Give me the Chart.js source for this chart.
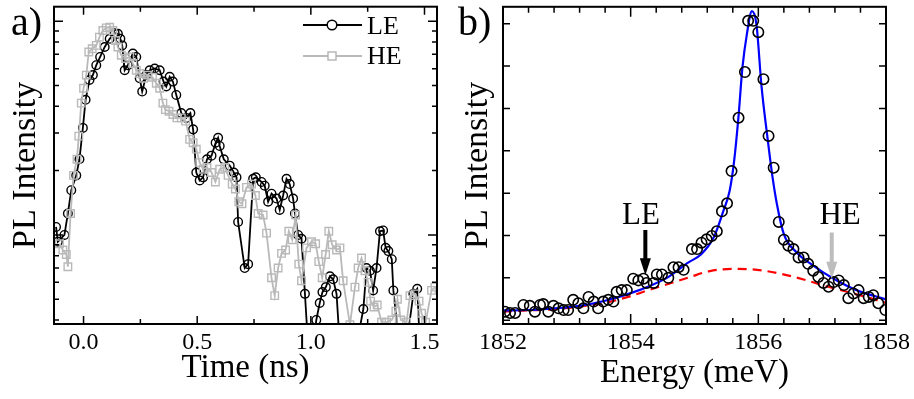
<!DOCTYPE html>
<html>
<head>
<meta charset="utf-8">
<script src="https://cdn.jsdelivr.net/npm/chart.js@4.4.0/dist/chart.umd.min.js"></script>
<style>
body { margin: 0; background: #fff; }
#wrap { position: relative; width: 914px; height: 399px; }
.panel { position: absolute; top: 0; width: 457px; height: 399px; }
</style>
</head>
<body>
<div id="wrap">
  <div class="panel" style="left:0"><canvas id="js--chart--a" width="457" height="399"></canvas></div>
  <div class="panel" style="left:457px"><canvas id="js--chart--b" width="457" height="399"></canvas></div>
</div>
<script>
// ---- panel a: time resolved PL (log scale) ----
const leTime = [-0.121,-0.113,-0.084,-0.069,-0.054,-0.032,-0.018,-0.003,0.009,0.026,
  0.041,0.056,0.073,0.093,0.115,0.137,0.151,0.162,0.170,0.181,
  0.195,0.217,0.232,0.247,0.258,0.276,0.291,0.313,0.335,0.352,
  0.364,0.379,0.393,0.408,0.430,0.452,0.470,0.482,0.496,0.511,
  0.526,0.543,0.563,0.581,0.592,0.599,0.617,0.643,0.661,0.673,
  0.680,0.709,0.724,0.746,0.758,0.783,0.797,0.812,0.827,0.849,
  0.863,0.878,0.893,0.907,0.922,0.930,0.944,0.959,0.974,0.988,
  1.010,1.024,1.039,1.051,1.066,1.084,1.098,1.113,1.128,1.160,
  1.200,1.231,1.245,1.260,1.274,1.289,1.304,1.318,1.329,1.341,
  1.356,1.363,1.390,1.420,1.451,1.468,1.480,1.510,1.550];
const leCounts = [1.09,0.93,1.00,1.26,1.62,1.90,2.26,3.17,4.29,5.31,
  5.60,6.23,6.81,7.58,8.28,8.80,8.73,8.28,7.71,5.90,
  6.23,7.06,6.81,5.41,4.69,5.60,5.90,6.01,5.90,5.22,
  4.95,5.50,5.22,4.52,3.72,3.53,3.72,3.12,1.96,1.80,
  1.86,2.26,2.35,2.70,2.85,2.61,2.26,2.11,1.96,1.86,
  1.15,0.70,0.73,1.83,1.86,1.77,1.70,1.43,1.56,1.48,
  1.31,1.53,1.83,1.73,1.48,1.26,1.00,0.96,0.53,0.30,
  0.30,0.40,0.48,0.54,0.57,0.64,0.62,0.53,0.30,0.30,
  0.30,0.45,0.70,0.68,0.55,0.70,1.04,1.05,0.87,0.84,
  0.77,0.55,0.30,0.30,0.53,0.56,0.30,0.30,0.30];

const heTime = [-0.106,-0.091,-0.076,-0.069,-0.057,-0.044,-0.029,-0.021,-0.010,0.000,
  0.012,0.023,0.038,0.056,0.070,0.085,0.100,0.115,0.129,0.141,
  0.151,0.166,0.185,0.203,0.217,0.232,0.247,0.264,0.283,0.303,
  0.320,0.335,0.349,0.360,0.376,0.393,0.411,0.430,0.449,0.467,
  0.482,0.496,0.511,0.526,0.543,0.563,0.580,0.599,0.621,0.636,
  0.654,0.668,0.683,0.697,0.717,0.739,0.756,0.768,0.790,0.805,
  0.827,0.841,0.856,0.871,0.889,0.903,0.918,0.933,0.947,0.959,
  0.981,1.003,1.021,1.035,1.050,1.065,1.079,1.094,1.113,1.128,
  1.142,1.172,1.194,1.208,1.223,1.238,1.252,1.263,1.278,1.292,
  1.311,1.333,1.356,1.374,1.381,1.396,1.421,1.436,1.458,1.476,
  1.487,1.505,1.531,1.546];
const heCounts = [0.91,0.85,0.81,0.71,1.26,1.90,2.26,2.90,4.14,4.86,
  5.60,7.18,7.44,7.71,8.43,9.05,9.31,9.38,9.05,8.13,
  7.58,6.93,6.69,6.81,6.34,5.90,5.70,5.41,5.60,5.47,
  5.13,4.86,4.14,3.86,3.79,3.66,3.53,3.53,3.41,2.80,
  2.70,2.52,2.18,2.03,2.07,1.96,1.77,2.03,2.07,1.90,
  1.73,1.64,1.43,1.40,1.67,1.73,1.53,1.26,1.24,1.02,
  0.63,0.52,0.70,0.82,0.85,1.04,0.95,1.24,0.73,0.61,
  0.87,0.93,0.91,0.75,0.63,0.81,1.04,0.90,0.85,0.87,
  0.61,0.38,0.57,0.70,0.78,0.68,0.60,0.49,0.46,0.47,
  0.39,0.39,0.40,0.44,0.50,0.40,0.39,0.52,0.53,0.49,
  0.43,0.39,0.55,0.57];

const timeTicks = [0, 0.25, 0.5, 0.75, 1.0, 1.25, 1.5];
const timeTickLabels = ["0.0", "", "0.5", "", "1.0", "", "1.5"];
const intensityTicks = [0.4, 0.5, 0.6, 0.7, 0.8, 0.9, 1, 2, 3, 4, 5, 6, 7, 8, 9, 10];

// ---- panel b: PL spectrum ----
const energy = [1852.03,1852.11,1852.19,1852.32,1852.42,1852.50,1852.58,1852.63,1852.71,1852.79,
  1852.87,1852.95,1853.02,1853.10,1853.18,1853.26,1853.34,1853.42,1853.49,1853.57,
  1853.65,1853.73,1853.78,1853.86,1853.94,1854.04,1854.12,1854.20,1854.25,1854.36,
  1854.41,1854.49,1854.59,1854.67,1854.75,1854.83,1854.96,1855.04,1855.11,1855.19,
  1855.27,1855.35,1855.43,1855.51,1855.58,1855.69,1855.79,1855.84,1855.92,1856.00,
  1856.08,1856.16,1856.24,1856.32,1856.40,1856.47,1856.55,1856.63,1856.71,1856.78,
  1856.86,1856.94,1857.02,1857.10,1857.18,1857.26,1857.34,1857.41,1857.49,1857.57,
  1857.65,1857.73,1857.80,1857.88,1857.99];
const specCounts = [0.20,0.17,0.17,0.36,0.34,0.20,0.36,0.38,0.20,0.34,
  0.28,0.24,0.24,0.48,0.40,0.28,0.55,0.44,0.28,0.44,
  0.48,0.44,0.67,0.71,0.71,0.98,0.94,0.98,0.88,0.88,
  1.08,1.08,1.00,1.25,1.25,1.19,1.68,1.68,1.83,1.91,
  1.99,2.10,2.57,2.76,3.52,4.78,5.86,7.07,7.07,6.80,
  5.69,4.35,3.60,2.32,1.90,1.76,1.68,1.48,1.48,1.33,
  1.17,1.02,0.88,0.79,0.90,0.94,0.83,0.52,0.63,0.71,
  0.52,0.55,0.59,0.40,0.24];

const fitEnergy = [1852.0,1852.4,1852.8,1853.2,1853.6,1854.0,1854.3,1854.6,1854.9,1855.1,
  1855.3,1855.45,1855.55,1855.62,1855.69,1855.75,1855.82,1855.9,1855.97,1856.05,
  1856.14,1856.22,1856.29,1856.4,1856.6,1856.86,1857.18,1857.54,1858.0];
const fitCounts = [0.23,0.24,0.28,0.34,0.46,0.64,0.81,1.03,1.36,1.55,
  1.95,2.57,3.05,3.75,4.82,5.95,6.75,7.30,6.99,5.52,
  4.35,3.40,2.75,2.03,1.60,1.29,0.98,0.71,0.49];

const bgEnergy = [1852.0,1852.4,1852.8,1853.2,1853.6,1853.96,1854.28,1854.6,1854.93,1855.24,
  1855.61,1855.98,1856.34,1856.71,1857.07,1857.44,1857.75,1858.0];
const bgCounts = [0.20,0.23,0.26,0.32,0.41,0.55,0.71,0.86,1.02,1.16,
  1.21,1.19,1.10,0.96,0.80,0.65,0.52,0.41];

const energyTicks = [1852,1852.4,1852.8,1853.2,1853.6,1854,1854.4,1854.8,1855.2,1855.6,
  1856,1856.4,1856.8,1857.2,1857.6,1858];
const energyTickLabels = ["1852","","","","","1854","","","","","1856","","","","","1858"];
const specTicks = [0, 1, 2, 3, 4, 5, 6, 7];

const serif = "'Liberation Serif', 'Times New Roman', serif";
const gray = "#b9b9b9";

function toPoints(xs, ys) {
  return xs.map(function (x, i) { return { x: x, y: ys[i] }; });
}

function drawFrame(chart, xLen, yLen) {
  const ctx = chart.ctx;
  const a = chart.chartArea;
  const sx = chart.scales.x, sy = chart.scales.y;
  ctx.save();
  ctx.strokeStyle = "#000";
  ctx.lineWidth = 1.5;
  ctx.beginPath();
  sx.ticks.forEach(function (t, i) {
    const p = sx.getPixelForValue(t.value);
    const len = xLen(i);
    ctx.moveTo(p, a.bottom); ctx.lineTo(p, a.bottom - len);
    ctx.moveTo(p, a.top); ctx.lineTo(p, a.top + len);
  });
  sy.ticks.forEach(function (t) {
    const p = sy.getPixelForValue(t.value);
    const len = yLen(t.value);
    ctx.moveTo(a.left, p); ctx.lineTo(a.left + len, p);
    ctx.moveTo(a.right, p); ctx.lineTo(a.right - len, p);
  });
  ctx.stroke();
  ctx.lineWidth = 2;
  ctx.strokeRect(a.left, a.top, a.right - a.left, a.bottom - a.top);
  ctx.restore();
}

const panelA = {
  id: "panelA",
  afterDraw(chart) {
    drawFrame(chart,
      function (i) { return timeTickLabels[i] ? 8 : 5; },
      function (v) { return (v === 1 || v === 10) ? 9 : 5; });
    const ctx = chart.ctx;
    ctx.save();
    ctx.fillStyle = "#000";
    ctx.font = "40px " + serif;
    ctx.textBaseline = "alphabetic";
    ctx.fillText("a)", 11, 35);
    // legend
    ctx.lineWidth = 2;
    ctx.strokeStyle = "#000";
    ctx.beginPath(); ctx.moveTo(303, 25); ctx.lineTo(362, 25); ctx.stroke();
    ctx.fillStyle = "#fff";
    ctx.lineWidth = 1.5;
    ctx.beginPath(); ctx.arc(332, 25, 4.8, 0, Math.PI * 2); ctx.fill(); ctx.stroke();
    ctx.strokeStyle = gray;
    ctx.lineWidth = 2;
    ctx.beginPath(); ctx.moveTo(303, 56); ctx.lineTo(362, 56); ctx.stroke();
    ctx.lineWidth = 1.5;
    ctx.fillRect(328, 52, 8, 8); ctx.strokeRect(328, 52, 8, 8);
    ctx.fillStyle = "#000";
    ctx.font = "26px " + serif;
    ctx.fillText("LE", 367, 34);
    ctx.fillText("HE", 367, 64);
    ctx.restore();
  }
};

function arrow(ctx, x, yTop, yTip, color) {
  ctx.fillStyle = color;
  ctx.strokeStyle = color;
  ctx.lineWidth = 4;
  ctx.beginPath(); ctx.moveTo(x, yTop); ctx.lineTo(x, yTip - 14); ctx.stroke();
  ctx.beginPath();
  ctx.moveTo(x - 5.5, yTip - 17);
  ctx.lineTo(x + 5.5, yTip - 17);
  ctx.lineTo(x, yTip);
  ctx.closePath();
  ctx.fill();
}

const panelB = {
  id: "panelB",
  afterDraw(chart) {
    drawFrame(chart,
      function (i) { return energyTickLabels[i] ? 10 : 6; },
      function () { return 7; });
    const ctx = chart.ctx;
    const sx = chart.scales.x, sy = chart.scales.y;
    ctx.save();
    ctx.fillStyle = "#000";
    ctx.font = "40px " + serif;
    ctx.fillText("b)", 1, 35);
    arrow(ctx, sx.getPixelForValue(1854.23), sy.getPixelForValue(2.13), sy.getPixelForValue(1.06), "#000");
    arrow(ctx, sx.getPixelForValue(1857.15), sy.getPixelForValue(2.07), sy.getPixelForValue(0.98), "#bdbdbd");
    ctx.fillStyle = "#000";
    ctx.font = "31px " + serif;
    ctx.textAlign = "center";
    ctx.fillText("LE", sx.getPixelForValue(1854.16), sy.getPixelForValue(2.27));
    ctx.fillText("HE", sx.getPixelForValue(1857.28), sy.getPixelForValue(2.27));
    ctx.restore();
  }
};

new Chart(document.getElementById("js--chart--a"), {
  type: "scatter",
  data: {
    datasets: [
      {
        label: "LE",
        data: toPoints(leTime, leCounts),
        showLine: true,
        borderColor: "#000",
        borderWidth: 1.8,
        pointStyle: "circle",
        pointRadius: 4.3,
        pointBorderWidth: 1.4,
        pointBorderColor: "#000",
        pointBackgroundColor: "rgba(0,0,0,0)",
        order: 1
      },
      {
        label: "HE",
        data: toPoints(heTime, heCounts),
        showLine: true,
        borderColor: gray,
        borderWidth: 1.8,
        pointStyle: "rect",
        pointRadius: 5.3,
        pointBorderWidth: 1.4,
        pointBorderColor: gray,
        pointBackgroundColor: "rgba(0,0,0,0)",
        order: 0
      }
    ]
  },
  options: {
    responsive: false,
    animation: false,
    devicePixelRatio: 1,
    events: [],
    layout: { padding: { left: 0, right: 20, top: 3, bottom: 0 } },
    plugins: { legend: { display: false }, tooltip: { enabled: false } },
    scales: {
      x: {
        type: "linear",
        min: -0.13,
        max: 1.555,
        grid: { display: false, drawTicks: false },
        border: { display: false },
        afterBuildTicks: function (axis) { axis.ticks = timeTicks.map(function (v) { return { value: v }; }); },
        afterFit: function (axis) { axis.height = 75; },
        ticks: {
          autoSkip: false,
          maxRotation: 0,
          padding: 4,
          color: "#000",
          font: { family: serif, size: 24 },
          callback: function (v, i) { return timeTickLabels[i]; }
        },
        title: {
          display: true,
          text: "Time (ns)",
          color: "#000",
          font: { family: serif, size: 33 },
          padding: { top: 0, bottom: 11 }
        }
      },
      y: {
        type: "logarithmic",
        min: 0.383,
        max: 11.7,
        grid: { display: false, drawTicks: false },
        border: { display: false },
        afterBuildTicks: function (axis) { axis.ticks = intensityTicks.map(function (v) { return { value: v }; }); },
        afterFit: function (axis) { axis.width = 54; },
        ticks: { display: false },
        title: {
          display: true,
          text: "PL Intensity",
          color: "#000",
          font: { family: serif, size: 34 },
          padding: { top: 6, bottom: 0 }
        }
      }
    }
  },
  plugins: [panelA]
});

new Chart(document.getElementById("js--chart--b"), {
  type: "scatter",
  data: {
    datasets: [
      {
        label: "data",
        data: toPoints(energy, specCounts),
        showLine: false,
        pointStyle: "circle",
        pointRadius: 5.2,
        pointBorderWidth: 1.6,
        pointBorderColor: "#000",
        pointBackgroundColor: "rgba(0,0,0,0)",
        order: 0
      },
      {
        label: "fit",
        data: toPoints(fitEnergy, fitCounts),
        showLine: true,
        borderColor: "#0000ff",
        borderWidth: 2.2,
        pointRadius: 0,
        cubicInterpolationMode: "monotone",
        order: 1
      },
      {
        label: "background",
        data: toPoints(bgEnergy, bgCounts),
        showLine: true,
        borderColor: "#ff0000",
        borderWidth: 2.2,
        borderDash: [9, 6],
        pointRadius: 0,
        cubicInterpolationMode: "monotone",
        order: 2
      }
    ]
  },
  options: {
    responsive: false,
    animation: false,
    devicePixelRatio: 1,
    events: [],
    layout: { padding: { left: 0, right: 28, top: 3, bottom: 0 } },
    plugins: { legend: { display: false }, tooltip: { enabled: false } },
    scales: {
      x: {
        type: "linear",
        min: 1852,
        max: 1858,
        grid: { display: false, drawTicks: false },
        border: { display: false },
        afterBuildTicks: function (axis) { axis.ticks = energyTicks.map(function (v) { return { value: v }; }); },
        afterFit: function (axis) { axis.height = 75; },
        ticks: {
          autoSkip: false,
          maxRotation: 0,
          padding: 4,
          color: "#000",
          font: { family: serif, size: 24 },
          callback: function (v, i) { return energyTickLabels[i]; }
        },
        title: {
          display: true,
          text: "Energy (meV)",
          color: "#000",
          font: { family: serif, size: 33 },
          padding: { top: 0, bottom: 6 }
        }
      },
      y: {
        type: "linear",
        min: -0.09,
        max: 7.40,
        grid: { display: false, drawTicks: false },
        border: { display: false },
        afterBuildTicks: function (axis) { axis.ticks = specTicks.map(function (v) { return { value: v }; }); },
        afterFit: function (axis) { axis.width = 46; },
        ticks: { display: false },
        title: {
          display: true,
          text: "PL Intensity",
          color: "#000",
          font: { family: serif, size: 34 },
          padding: { top: 1, bottom: 0 }
        }
      }
    }
  },
  plugins: [panelB]
});
</script>
</body>
</html>
